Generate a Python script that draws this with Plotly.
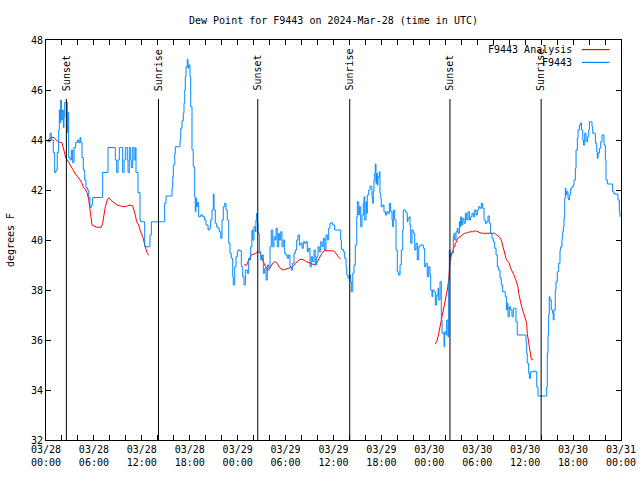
import pandas as pd
import plotly.graph_objects as go

# ---- data (hours after 2024-03-28 00:00 UTC, dew point degF) ----
obs_hours = [0.16, 0.50, 0.66, 0.91, 1.09, 1.25, 1.41, 1.59, 1.67, 1.75, 1.84, 1.92, 2.04, 2.17, 2.25, 2.34, 2.59, 2.67, 2.75, 2.84,
             3.01, 3.17, 3.34, 3.51, 3.72, 3.92, 4.09, 4.26, 4.35, 4.51, 4.67, 4.85, 5.01, 5.17, 5.35, 5.51, 5.67, 5.85, 6.92, 7.10,
             7.68, 7.76, 8.51, 8.68, 8.85, 9.02, 9.18, 9.43, 9.60, 9.77, 9.93, 10.18, 10.27, 10.43, 10.61, 10.68, 10.86, 11.02, 11.18, 11.27,
             11.52, 11.77, 11.86, 12.18, 12.36, 12.93, 13.02, 13.19, 14.69, 14.86, 15.03, 15.69, 15.78, 15.87, 15.94, 16.12, 16.19, 16.69, 16.78, 16.87,
             17.03, 17.19, 17.28, 17.37, 17.44, 17.53, 17.69, 17.78, 17.87, 18.03, 18.12, 18.28, 18.44, 18.62, 18.69, 18.78, 18.87, 18.95, 19.12, 19.37,
             19.62, 19.87, 20.03, 20.29, 20.45, 20.62, 20.79, 20.95, 21.04, 21.20, 21.37, 21.54, 21.70, 21.88, 22.04, 22.20, 22.38, 22.54, 22.70, 22.88,
             23.04, 23.20, 23.38, 23.45, 23.63, 23.79, 23.95, 24.04, 24.29, 24.46, 24.63, 24.79, 24.96, 25.21, 25.38, 25.50, 25.63, 25.79, 25.88, 26.04,
             26.21, 26.29, 26.38, 26.46, 26.55, 26.71, 26.88, 27.05, 27.21, 27.39, 27.55, 27.71, 27.89, 28.05, 28.21, 28.39, 28.55, 28.71, 28.80, 28.96,
             29.14, 29.21, 29.39, 29.55, 29.71, 29.89, 30.05, 30.21, 30.39, 30.55, 30.71, 30.89, 31.05, 31.22, 31.39, 31.55, 31.72, 31.89, 32.06, 32.22,
             32.39, 32.56, 32.72, 32.89, 33.06, 33.22, 33.39, 33.56, 33.72, 33.90, 34.06, 34.22, 34.40, 34.56, 34.72, 34.90, 35.06, 35.22, 35.40, 35.56,
             35.73, 35.90, 36.15, 36.81, 36.90, 36.98, 37.23, 37.40, 37.57, 37.66, 37.82, 37.99, 38.16, 38.23, 38.41, 38.57, 38.73, 38.91, 38.98, 39.16,
             39.23, 39.41, 39.57, 39.73, 39.82, 39.91, 40.07, 40.15, 40.23, 40.41, 40.57, 40.73, 40.82, 40.91, 40.98, 41.07, 41.16, 41.23, 41.32, 41.40,
             41.48, 41.57, 41.73, 41.82, 41.91, 41.98, 42.16, 42.32, 42.49, 42.66, 42.82, 42.99, 43.16, 43.33, 43.41, 43.49, 43.66, 43.83, 43.99, 44.16,
             44.33, 44.49, 44.67, 44.74, 44.99, 45.17, 45.24, 45.33, 45.49, 45.58, 45.67, 45.83, 45.99, 46.17, 46.33, 46.49, 46.67, 46.83, 47.08, 47.25,
             47.42, 47.58, 47.74, 47.92, 48.08, 48.17, 48.33, 48.42, 48.58, 48.75, 48.92, 49.09, 49.17, 49.34, 49.50, 49.59, 49.84, 49.92, 50.09, 50.17,
             50.33, 50.42, 50.50, 50.59, 50.67, 50.84, 51.00, 51.09, 51.18, 51.34, 51.50, 51.59, 51.76, 51.85, 51.93, 52.01, 52.18, 52.34, 52.51, 52.68,
             52.84, 53.01, 53.18, 53.34, 53.51, 53.68, 53.85, 54.01, 54.18, 54.35, 54.51, 54.68, 54.85, 55.01, 55.18, 55.35, 55.51, 55.68, 55.85, 56.01,
             56.18, 56.35, 56.51, 56.68, 56.85, 57.01, 57.18, 57.51, 57.68, 57.76, 57.85, 58.01, 58.18, 58.35, 58.51, 58.68, 58.85, 59.01, 59.85, 60.10,
             60.19, 60.26, 60.44, 60.52, 60.69, 61.10, 61.27, 61.45, 61.61, 62.52, 62.70, 62.77, 62.86, 62.94, 63.02, 63.11, 63.27, 63.44, 63.52, 63.61,
             63.77, 63.86, 64.02, 64.20, 64.36, 64.45, 64.61, 64.70, 64.78, 64.86, 64.95, 65.03, 65.11, 65.19, 65.36, 65.45, 65.53, 65.70, 65.87, 66.03,
             66.12, 66.28, 66.37, 66.53, 66.62, 66.78, 66.96, 67.04, 67.21, 67.29, 67.46, 67.62, 67.79, 67.96, 68.04, 68.21, 68.37, 68.46, 68.62, 68.79,
             68.96, 69.04, 69.13, 69.29, 69.46, 69.62, 69.79, 69.87, 70.04, 70.12, 70.29, 70.79, 70.96, 71.12, 71.54, 71.62, 71.79, 71.87]
obs_dewpt = [43.93, 44.27, 44.0, 43.5, 42.7, 42.8, 43.5, 44.4, 45.2, 44.7, 45.6, 44.8, 45.2, 44.5, 44.9, 45.5, 45.5, 44.3, 45.1, 43.3,
             43.2, 43.6, 43.1, 43.7, 43.9, 44.0, 43.9, 44.1, 43.9, 43.3, 42.8, 42.4, 42.1, 42.0, 41.7, 41.3, 41.4, 41.7, 41.7, 42.7,
             42.7, 43.7, 43.7, 43.2, 42.7, 43.2, 43.7, 43.7, 42.7, 43.2, 43.7, 43.2, 42.7, 43.7, 43.2, 42.9, 43.7, 43.2, 43.7, 42.7,
             41.9, 40.8, 40.73, 40.73, 39.73, 39.73, 40.2, 40.73, 40.73, 41.47, 41.76, 41.76, 42.07, 42.53, 43.0, 43.47, 43.73, 43.73, 44.0, 44.47,
             44.77, 45.07, 45.47, 46.0, 46.53, 46.93, 47.23, 46.87, 47.0, 46.53, 45.33, 43.6, 42.93, 41.73, 41.13, 41.67, 41.33, 41.5, 40.93, 41.0,
             40.93, 40.8, 40.6, 40.4, 40.47, 40.8, 41.2, 41.84, 41.2, 40.67, 40.53, 40.47, 40.33, 40.07, 40.8, 41.33, 41.47, 41.2, 40.8, 39.87,
             39.47, 39.27, 38.53, 38.2, 38.93, 39.33, 39.53, 39.6, 39.57, 38.93, 38.53, 38.2, 38.8, 38.67, 39.27, 39.2, 39.73, 40.4, 40.0, 40.53,
             40.33, 40.8, 41.07, 40.67, 40.27, 39.53, 39.2, 39.4, 38.67, 38.87, 38.4, 39.0, 38.87, 39.73, 40.4, 39.73, 40.13, 40.0, 40.47, 39.73,
             40.27, 40.0, 40.33, 39.73, 40.0, 39.47, 39.4, 39.27, 39.4, 38.93, 38.8, 39.07, 39.47, 39.6, 40.0, 40.2, 39.8, 39.87, 39.67, 39.93,
             39.87, 39.93, 39.53, 39.67, 38.93, 39.33, 39.13, 39.6, 39.0, 39.33, 39.73, 39.53, 39.93, 39.73, 40.07, 39.6, 40.2, 40.0, 40.47, 40.67,
             40.69, 40.6, 40.4, 40.4, 40.0, 39.63, 39.53, 39.27, 38.93, 38.6, 38.47, 38.6, 38.33, 37.93, 38.67, 39.0, 39.8, 40.93, 41.53, 41.0,
             41.33, 40.53, 41.0, 41.47, 41.73, 40.8, 41.53, 41.07, 41.8, 42.0, 42.16, 42.13, 41.73, 41.47, 41.93, 42.4, 42.67, 43.04, 42.27, 42.67,
             42.2, 42.53, 42.73, 41.87, 41.67, 41.33, 41.4, 41.13, 41.0, 41.13, 41.07, 41.47, 41.13, 40.8, 40.53, 41.2, 40.8, 39.6, 38.73, 38.6,
             39.0, 39.6, 40.4, 41.2, 41.13, 41.07, 40.73, 40.87, 40.93, 40.6, 39.87, 40.4, 40.27, 39.6, 39.87, 39.2, 39.73, 39.8, 39.8, 39.67,
             38.93, 39.07, 38.53, 38.93, 38.6, 38.0, 37.73, 38.0, 37.93, 37.4, 37.8, 38.07, 37.6, 38.33, 36.8, 36.27, 35.73, 36.33, 36.2, 36.8,
             36.13, 38.4, 39.6, 39.33, 39.47, 39.47, 40.13, 40.27, 40.0, 40.33, 40.47, 40.27, 40.73, 40.53, 40.93, 40.6, 40.87, 40.67, 41.07, 40.8,
             41.13, 40.8, 40.93, 41.07, 40.93, 41.2, 41.0, 41.2, 41.33, 41.27, 41.47, 41.27, 40.8, 40.67, 40.73, 40.96, 40.67, 40.27, 40.07, 39.93,
             39.67, 39.4, 38.93, 38.8, 38.47, 38.2, 37.93, 37.73, 37.2, 37.47, 36.93, 37.33, 37.2, 36.93, 37.27, 37.27, 36.73, 36.2, 36.2, 35.93,
             35.47, 35.07, 34.67, 34.47, 34.73, 34.76, 34.73, 34.13, 33.76, 33.76, 34.13, 35.47, 36.2, 37.0, 37.73, 37.6, 37.2, 37.07, 36.8, 37.2,
             38.0, 38.33, 38.73, 39.07, 39.6, 39.73, 40.07, 40.33, 40.53, 40.87, 41.67, 42.07, 41.8, 41.93, 41.67, 41.6, 41.8, 42.07, 42.13, 42.2,
             42.4, 42.87, 43.6, 44.07, 44.4, 44.6, 44.69, 44.4, 44.0, 43.8, 44.27, 43.93, 44.13, 44.4, 44.73, 44.73, 44.53, 44.27, 44.27, 43.87,
             43.53, 43.27, 43.47, 43.67, 43.93, 44.2, 44.2, 43.8, 43.2, 42.4, 42.24, 42.24, 41.93, 41.84, 41.84, 41.6, 41.13, 40.93]

ana1_hours = [0.25, 0.66, 1.00, 1.25, 1.50, 2.00, 2.17, 2.34, 2.50, 2.67, 2.92, 3.09, 3.26, 3.51, 3.76, 4.01, 4.26, 4.51, 4.67, 4.92,
              5.17, 5.35, 5.51, 5.60, 5.76, 6.01, 6.42, 6.92, 7.10, 7.26, 7.43, 7.68, 7.85, 8.10, 8.35, 8.60, 8.93, 9.35, 9.77, 10.18,
              10.52, 10.86, 11.02, 11.18, 11.36, 11.61, 11.77, 11.93, 12.18, 12.36, 12.52, 12.68, 12.93]
ana1_dewpt = [44.0, 44.1, 44.1, 44.03, 43.93, 43.89, 43.67, 43.47, 43.27, 43.2, 43.07, 43.0, 42.91, 42.73, 42.6, 42.53, 42.4, 42.27, 42.11, 42.03,
              41.87, 41.6, 41.2, 40.93, 40.6, 40.56, 40.51, 40.51, 40.67, 41.0, 41.33, 41.6, 41.69, 41.6, 41.53, 41.47, 41.4, 41.36, 41.33, 41.36,
              41.4, 41.36, 41.2, 41.0, 40.73, 40.6, 40.4, 40.27, 40.07, 39.8, 39.6, 39.47, 39.4]
ana2_hours = [24.79, 25.13, 25.29, 25.46, 25.71, 26.05, 26.30, 26.63, 26.80, 26.96, 27.21, 27.39, 27.64, 27.89, 28.14, 28.39, 28.64, 28.89, 29.14, 29.39,
              29.71, 30.05, 30.39, 30.72, 30.97, 31.30, 31.64, 31.97, 32.31, 32.64, 32.97, 33.31, 33.65, 33.81, 34.06, 34.31, 34.56, 34.81, 35.90, 36.15,
              36.40, 36.65, 36.90]
ana2_dewpt = [39.0, 39.0, 39.13, 39.27, 39.4, 39.44, 39.47, 39.53, 39.47, 39.33, 39.13, 39.0, 38.87, 38.8, 38.93, 39.07, 39.13, 39.09, 38.96, 38.85,
              38.8, 38.83, 38.87, 38.91, 38.96, 39.07, 39.2, 39.23, 39.2, 39.13, 39.09, 39.07, 39.0, 39.04, 39.2, 39.33, 39.47, 39.57, 39.57, 39.53,
              39.4, 39.31, 39.23]
ana3_hours = [48.75, 48.92, 49.09, 49.25, 49.42, 49.59, 49.75, 49.92, 50.09, 50.25, 50.42, 50.50, 50.59, 50.75, 50.93, 51.09, 51.25, 51.43, 51.59, 51.84,
              52.09, 52.43, 52.75, 53.09, 53.43, 53.76, 54.09, 54.34, 54.68, 56.18, 56.43, 56.76, 57.01, 57.26, 57.43, 57.60, 57.76, 58.01, 58.18, 58.43,
              58.60, 58.76, 58.93, 59.10, 59.19, 59.35, 59.51, 59.69, 59.85, 60.02, 60.19, 60.26, 60.44, 60.60, 60.77, 61.02]
ana3_dewpt = [35.84, 35.93, 36.13, 36.4, 36.67, 36.93, 37.2, 37.47, 37.67, 38.0, 38.4, 38.8, 39.13, 39.4, 39.53, 39.71, 39.84, 39.97, 40.07, 40.13,
              40.2, 40.27, 40.29, 40.33, 40.33, 40.37, 40.33, 40.29, 40.27, 40.27, 40.2, 40.13, 40.0, 39.67, 39.47, 39.27, 39.17, 39.07, 38.87, 38.73,
              38.6, 38.47, 38.33, 38.13, 37.87, 37.6, 37.4, 37.2, 37.0, 36.87, 36.67, 36.27, 35.87, 35.4, 35.23, 35.23]

sun_times = ["2024-03-28 02:33", "2024-03-28 14:05", "2024-03-29 02:31",
             "2024-03-29 14:02", "2024-03-30 02:35", "2024-03-30 14:00"]
sun_labels = ["Sunset", "Sunrise", "Sunset", "Sunrise", "Sunset", "Sunrise"]

tick_times = ["2024-03-28 00:00", "2024-03-28 06:00", "2024-03-28 12:00", "2024-03-28 18:00",
              "2024-03-29 00:00", "2024-03-29 06:00", "2024-03-29 12:00", "2024-03-29 18:00",
              "2024-03-30 00:00", "2024-03-30 06:00", "2024-03-30 12:00", "2024-03-30 18:00",
              "2024-03-31 00:00"]
tick_labels = ["03/28<br>00:00", "03/28<br>06:00", "03/28<br>12:00", "03/28<br>18:00",
               "03/29<br>00:00", "03/29<br>06:00", "03/29<br>12:00", "03/29<br>18:00",
               "03/30<br>00:00", "03/30<br>06:00", "03/30<br>12:00", "03/30<br>18:00",
               "03/31<br>00:00"]

series_names = ["F9443 Analysis", "F9443"]
series_colors = ["#ff0000", "#0088ff"]

# ---- build ----
base = pd.Timestamp("2024-03-28 00:00")


def to_time(hours):
    return list(base + pd.to_timedelta(pd.Series(hours), unit="h"))


ana_x, ana_y = [], []
for hs, vs in [(ana1_hours, ana1_dewpt), (ana2_hours, ana2_dewpt), (ana3_hours, ana3_dewpt)]:
    ana_x += to_time(hs) + [None]
    ana_y += list(vs) + [None]

FONT = "DejaVu Sans Mono"
fig = go.Figure()
fig.add_trace(go.Scatter(x=ana_x, y=ana_y, mode="lines", name=series_names[0],
                         line=dict(color=series_colors[0], width=1), connectgaps=False,
                         showlegend=False))
fig.add_trace(go.Scatter(x=to_time(obs_hours), y=obs_dewpt, mode="lines", name=series_names[1],
                         line=dict(color=series_colors[1], width=1, shape="hv"),
                         showlegend=False))

shapes = []
annotations = []
for t, lab in zip(sun_times, sun_labels):
    shapes.append(dict(type="line", xref="x", yref="paper", x0=t, x1=t, y0=0, y1=0.8525,
                       line=dict(color="black", width=1)))
    annotations.append(dict(x=t, y=0.868, xref="x", yref="paper", text=lab, textangle=-90,
                            showarrow=False, xanchor="center", yanchor="bottom",
                            font=dict(family=FONT, size=10, color="black")))

# key (gnuplot style: text then line sample)
key_rows = [0.976, 0.944]
for name, col, yy in zip(series_names, series_colors, key_rows):
    annotations.append(dict(x=0.918, y=yy, xref="paper", yref="paper", text=name,
                            showarrow=False, xanchor="right", yanchor="middle",
                            font=dict(family=FONT, size=10, color="black")))
    shapes.append(dict(type="line", xref="paper", yref="paper", x0=0.932, x1=0.980,
                       y0=yy, y1=yy, line=dict(color=col, width=1.2)))

fig.update_layout(
    width=640, height=480,
    margin=dict(l=46, r=19, t=40, b=40, autoexpand=False),
    paper_bgcolor="white", plot_bgcolor="white",
    font=dict(family=FONT, size=10, color="black"),
    title=dict(text="Dew Point for F9443 on 2024-Mar-28 (time in UTC)", x=0.5, xref="paper",
               xanchor="center", y=0.958, yref="container", yanchor="middle",
               font=dict(family=FONT, size=10, color="black")),
    shapes=shapes, annotations=annotations,
    showlegend=False,
)
fig.update_xaxes(type="date", range=["2024-03-28 00:00", "2024-03-31 00:00"],
                 tickvals=tick_times, ticktext=tick_labels, automargin=False,
                 ticks="inside", ticklen=5, tickcolor="black", mirror="ticks",
                 showline=True, linecolor="black", linewidth=1, showgrid=False, zeroline=False,
                 minor=dict(dtick=2 * 3600 * 1000, ticks="inside", ticklen=5, tickcolor="black", showgrid=False),
                 tickfont=dict(family=FONT, size=10, color="black"))
fig.update_yaxes(range=[32, 48], dtick=2, tick0=32, automargin=False,
                 ticks="inside", ticklen=5, tickcolor="black", mirror="ticks",
                 showline=True, linecolor="black", linewidth=1, showgrid=False, zeroline=False,
                 title=dict(text="degrees F", standoff=14, font=dict(family=FONT, size=10, color="black")),
                 tickfont=dict(family=FONT, size=10, color="black"))

fig.write_html("out.html", config={"displayModeBar": False, "staticPlot": True},
               post_script="document.body.style.margin='0';document.body.style.overflow='hidden';")
